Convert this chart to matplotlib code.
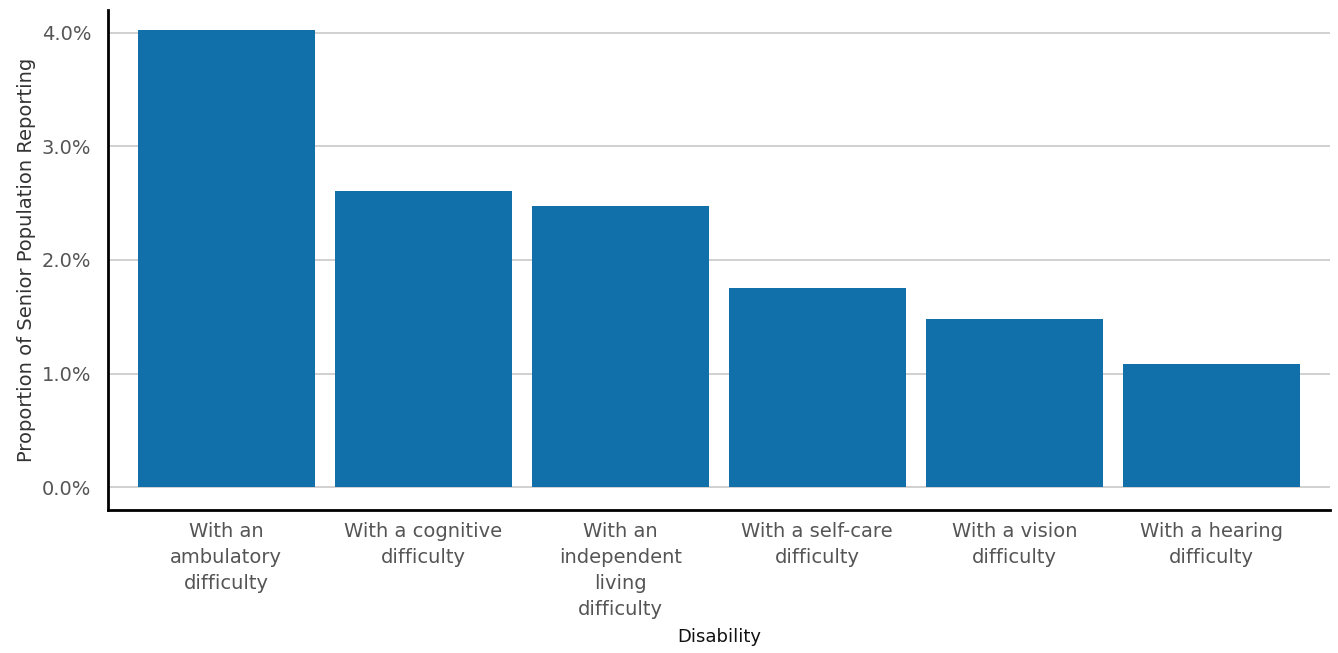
import matplotlib.pyplot as plt
import numpy as np
from matplotlib.ticker import FuncFormatter

categories = ['With an\nambulatory\ndifficulty', 'With a cognitive\ndifficulty',
              'With an\nindependent\nliving\ndifficulty', 'With a self-care\ndifficulty',
              'With a vision\ndifficulty', 'With a hearing\ndifficulty']
values = [4.02, 2.61, 2.47, 1.75, 1.48, 1.08]
yticks = [0, 1, 2, 3, 4]

fig = plt.figure(figsize=(13.38, 6.53), dpi=100)
ax = fig.add_axes([0.0807, 0.219, 0.913, 0.766])

positions = np.arange(len(categories))
ax.bar(positions, values, width=0.9, color='#1170aa', zorder=2)

ax.set_xlim(-0.6, 5.6)
ax.set_ylim(-0.2, 4.2)
ax.set_yticks(yticks)
ax.yaxis.set_major_formatter(FuncFormatter(lambda v, p: f"{v:.1f}%"))
ax.set_xticks(positions)
ax.set_xticklabels(categories, linespacing=1.45)

ax.grid(True, axis='y', color='#c8c8c8', linewidth=1.2, zorder=0)
ax.set_axisbelow(True)

ax.spines['top'].set_visible(False)
ax.spines['right'].set_visible(False)
ax.spines['left'].set_linewidth(2)
ax.spines['bottom'].set_linewidth(2)
ax.tick_params(axis='both', which='both', length=0, labelsize=14, labelcolor='#555555')
ax.tick_params(axis='x', pad=9)
ax.tick_params(axis='y', pad=12)

ax.set_ylabel('Proportion of Senior Population Reporting', fontsize=14, color='#333333', labelpad=4)
ax.set_xlabel('Disability', fontsize=13, color='#111111', fontweight='medium', labelpad=7)

fig.savefig('out.png', dpi=100)
plt.close(fig)
